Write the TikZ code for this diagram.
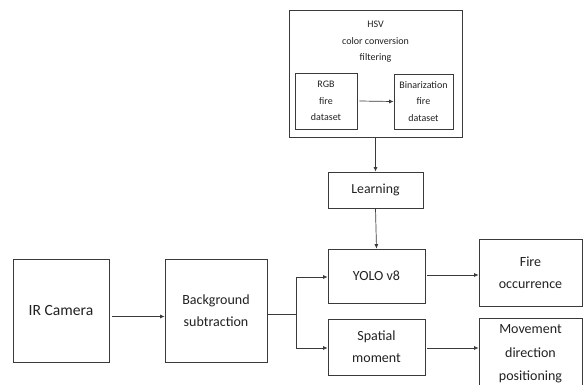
\documentclass[tikz,border=0pt]{standalone}
\usepackage{fontspec}
\setmainfont{Carlito}
\usetikzlibrary{arrows.meta}
\definecolor{boxline}{HTML}{3A3A3A}
\definecolor{txt}{HTML}{222222}
\tikzset{
  blk/.style={draw=boxline, line width=0.8pt, rectangle, inner sep=0pt, align=center, text=txt},
  arr/.style={draw=boxline, line width=0.7pt, -{Latex[length=4.5pt,width=4pt]}},
  ln/.style={draw=boxline, line width=0.8pt},
  small/.style={font=\fontsize{10}{16.7}\selectfont},
  mid/.style={font=\fontsize{14}{22}\selectfont},
}
\begin{document}
\begin{tikzpicture}[x=1pt,y=-1pt]
\useasboundingbox (0,0) rectangle (586,384);
\fill[white] (0,0) rectangle (586,384);
\clip (0,0) rectangle (586,384);
% HSV group
\node[blk, minimum width=173pt, minimum height=127pt] (hsv) at (375.5,73.5) {};
\node[small, text=txt, align=center, inner sep=0pt] (hsvt) at (375.5,41.7) {HSV\\color conversion\\filtering};
\node[blk, small, minimum width=62pt, minimum height=56pt] (rgb) at (326,101) {RGB\\fire\\dataset};
\node[blk, small, minimum width=59pt, minimum height=55pt] (bin) at (423.5,101.5) {Binarization\\fire\\dataset};
% main chain
\node[blk, font=\fontsize{13.8}{20}\selectfont, minimum width=95pt, minimum height=36pt] (learn) at (375.5,190) {Learning};
\node[blk, font=\fontsize{15.6}{20}\selectfont, minimum width=96pt, minimum height=103pt] (ir) at (61,310.5) {IR Camera};
\node[blk, mid, minimum width=102pt, minimum height=103pt] (bg) at (216,310.5) {Background\\subtraction};
\node[blk, mid, minimum width=97pt, minimum height=54pt] (yolo) at (376.5,276) {YOLO v8};
\node[blk, mid, minimum width=97pt, minimum height=56pt] (sp) at (376.5,347) {Spatial\\moment};
\node[blk, mid, minimum width=103pt, minimum height=67pt] (fire) at (530.5,272.5) {Fire\\occurrence};
\node[blk, mid, minimum width=103pt, minimum height=72pt, font=\fontsize{14}{23.5}\selectfont] (mov) at (530.5,354) {Movement\\direction\\positioning};
\coordinate (br) at (296,314);
% connectors
\draw[arr] (rgb.east) ++(2,0) coordinate (rs) -- (bin.west);
\draw[arr] (hsv.south) -- (learn.north);
\draw[arr] (learn.south) -- (yolo.north);
\draw[arr] (ir.east) ++(3,6) -- (bg.west |- 0,316.5);
\draw[ln] (bg.east |- br) -- (br);
\draw[arr] (br) |- (yolo.west |- 0,277);
\draw[arr] (br) |- (sp.west |- 0,348);
\draw[arr] (yolo.east |- 0,275) ++(2,0) -- (fire.west |- 0,275);
\draw[arr] (sp.east |- 0,348) ++(2,0) -- (mov.west |- 0,348);
\end{tikzpicture}
\end{document}
